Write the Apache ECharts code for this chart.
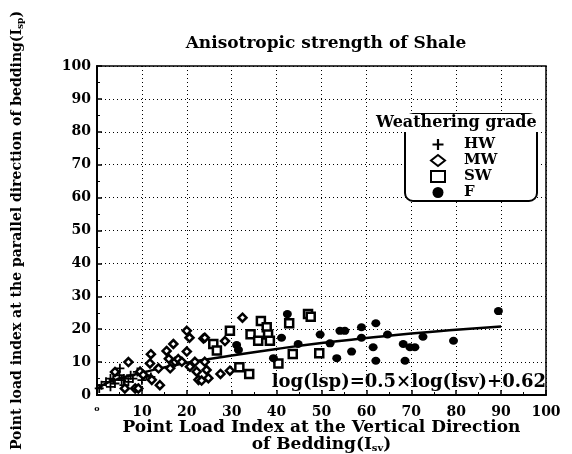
<!DOCTYPE html>
<html><head><meta charset="utf-8">
<script src="https://cdn.jsdelivr.net/npm/echarts@6/dist/echarts.min.js"></script>
<style>html,body{margin:0;padding:0;background:#fff}#c{width:572px;height:454px}</style>
</head><body><div id="c"></div>
<script>
// ---- data ----
const titleText = 'Anisotropic strength of Shale';
const xTicks = [0,10,20,30,40,50,60,70,80,90,100];
const yTicks = [0,10,20,30,40,50,60,70,80,90,100];
const legendTitle = 'Weathering grade';
const seriesNames = ['HW','MW','SW','F'];
const hwData = [[0.5,2],[1,3],[2,4],[3,5],[3,2.5],[4,3.5],[5,6],[5.5,4.5],[6,5],[6,3],[7,4],[7.5,6],[8,5],[9,7],[10,4.5],[11,6],[12,5.5],[3.6,4.6],[5.1,8.1]];
const mwData = [[4,7],[7,10],[9.6,7.1],[10.3,6.1],[11.8,9.6],[12,12.4],[13.7,8.1],[14,3],[15.5,13.4],[16,11],[16.3,8.1],[17,15.5],[17.4,10.1],[18.1,10.9],[18.9,10.1],[20,19.5],[20.6,17.4],[20,13.2],[20.7,8.6],[22.2,7.1],[21.8,10.1],[22.6,4.6],[23.7,17.2],[24,10.1],[24,17.4],[24.4,7.6],[24.8,5.1],[23.3,4.4],[27.5,6.4],[28.5,16.4],[29.6,7.4],[32.4,23.5],[12.2,4.6],[6.2,2],[8.5,2],[9.2,2]];
const swData = [[25.9,15.5],[26.7,13.5],[29.6,19.5],[31.7,8.4],[33.9,6.4],[34.2,18.5],[35.9,16.5],[36.5,22.5],[37.8,20.6],[38.1,18.4],[38.5,16.5],[40.4,9.6],[42.8,21.8],[43.6,12.5],[47,24.6],[47.6,23.8],[49.5,12.7]];
const fData = [[31.1,15.2],[31.5,13.7],[39.3,11.2],[41.1,17.4],[42.4,24.6],[44.8,15.5],[49.7,18.4],[51.9,15.7],[53.4,11.2],[54.1,19.5],[55.2,19.5],[56.7,13.2],[58.9,20.6],[58.9,17.4],[61.5,14.5],[62.1,21.8],[62.1,10.4],[64.7,18.4],[68.2,15.5],[69.7,14.5],[70.8,14.5],[68.6,10.4],[72.6,17.7],[79.4,16.5],[89.4,25.5]];
const fitLine = [[0.3,2],[2,3.5],[5,5],[10,6.8],[20,9.8],[30,12],[40,14],[50,15.8],[60,17.3],[70,18.7],[80,19.8],[90,20.8]];
const equationText = 'log(lsp)=0.5×log(lsv)+0.62';
const xName1 = 'Point Load Index at the Vertical Direction';
const xName2 = 'of Bedding(I';
const yNameText = 'Point load index at the parallel direction of bedding(I';

const FONT = 'DejaVu Serif';
const plusPath = 'path://M4,0h2v4h4v2h-4v4h-2v-4h-4v-2h4z';

const chart = echarts.init(document.getElementById('c'), null, {renderer:'canvas'});
const scatterBase = {type:'scatter', z:5};
chart.setOption({
  animation:false,
  backgroundColor:'#fff',
  title:{text:titleText,left:321,top:30,textAlign:'center',
    textStyle:{fontFamily:FONT,fontWeight:'bold',fontSize:17,color:'#000'}},
  grid:{left:97,right:26,top:66,bottom:59,containLabel:false,outerBoundsMode:'none',
    show:true,borderColor:'#000',borderWidth:1.5,backgroundColor:'transparent'},
  xAxis:{type:'value',min:0,max:100,interval:10,
    name:xName1+'\n'+xName2+'{sub|sv}{n|)}',nameLocation:'middle',nameGap:24,nameMoveOverlap:false,
    nameTextStyle:{fontFamily:FONT,fontWeight:'bold',fontSize:17,color:'#000',lineHeight:17,
      rich:{sub:{fontFamily:FONT,fontWeight:'bold',fontSize:10,color:'#000',lineHeight:17,verticalAlign:'bottom',padding:[7,0,0,0]},
            n:{fontFamily:FONT,fontWeight:'bold',fontSize:17,color:'#000',lineHeight:17}}},
    axisLine:{show:true,onZero:false,lineStyle:{color:'#000',width:2}},
    axisTick:{show:true,inside:true,length:5,lineStyle:{color:'#000',width:1.5}},
    minorTick:{show:true,splitNumber:2,length:3,lineStyle:{color:'#000'}},
    axisLabel:{margin:10,fontFamily:FONT,fontWeight:'bold',fontSize:14,color:'#000',
      formatter:v=> v===0 ? '{s|o}' : String(v),
      rich:{s:{fontSize:8,fontFamily:FONT,fontWeight:'bold',color:'#000'}}},
    splitLine:{show:true,lineStyle:{color:'#000',type:[1,3],width:1}}},
  yAxis:{type:'value',min:0,max:100,interval:10,
    name:yNameText+'{sub|sp}{n|)}',nameLocation:'middle',nameGap:72,nameMoveOverlap:false,
    nameTextStyle:{fontFamily:FONT,fontWeight:'bold',fontSize:14,color:'#000',
      rich:{sub:{fontFamily:FONT,fontWeight:'bold',fontSize:9,color:'#000',verticalAlign:'bottom',padding:[6,0,0,0]},
            n:{fontFamily:FONT,fontWeight:'bold',fontSize:14,color:'#000'}}},
    axisLine:{show:true,onZero:false,lineStyle:{color:'#000',width:2}},
    axisTick:{show:true,inside:true,length:5,lineStyle:{color:'#000',width:1.5}},
    minorTick:{show:true,splitNumber:2,length:3,lineStyle:{color:'#000'}},
    axisLabel:{margin:6,fontFamily:FONT,fontWeight:'bold',fontSize:14,color:'#000'},
    splitLine:{show:true,lineStyle:{color:'#000',type:[1,3],width:1}}},
  legend:{orient:'vertical',left:425,top:132,z:100,itemWidth:14,itemHeight:11,itemGap:1,
    data:seriesNames,
    textStyle:{fontFamily:FONT,fontWeight:'bold',fontSize:15,lineHeight:13,color:'#000',padding:[0,0,0,14]}},
  graphic:[
    {type:'rect',left:404,top:113,z:50,shape:{width:132,height:87,r:8},style:{fill:'#fff',stroke:'#000',lineWidth:2}},
    {type:'text',left:374,top:114,z:60,style:{text:legendTitle,font:'bold 16px "DejaVu Serif"',fill:'#000',backgroundColor:'#fff',padding:[1,2]}},
    {type:'text',right:26,top:373,z:60,style:{text:equationText,font:'bold 18px "DejaVu Serif"',fill:'#000'}}
  ],
  series:[
    Object.assign({},scatterBase,{name:'HW',data:hwData,symbol:plusPath,symbolSize:9,itemStyle:{color:'#000',opacity:1}}),
    Object.assign({},scatterBase,{name:'MW',data:mwData,symbol:'diamond',symbolSize:8,itemStyle:{color:'#fff',borderColor:'#000',borderWidth:2.5,opacity:1}}),
    Object.assign({},scatterBase,{name:'SW',data:swData,symbol:'rect',symbolSize:8,itemStyle:{color:'#fff',borderColor:'#000',borderWidth:2.5,opacity:1}}),
    Object.assign({},scatterBase,{name:'F',data:fData,symbol:'circle',symbolSize:[9,8],itemStyle:{color:'#000',opacity:1}}),
    {type:'line',name:'fit',data:fitLine,smooth:true,showSymbol:false,symbol:'none',z:4,
      lineStyle:{color:'#000',width:2.5},legendHoverLink:false}
  ]
});
</script></body></html>
